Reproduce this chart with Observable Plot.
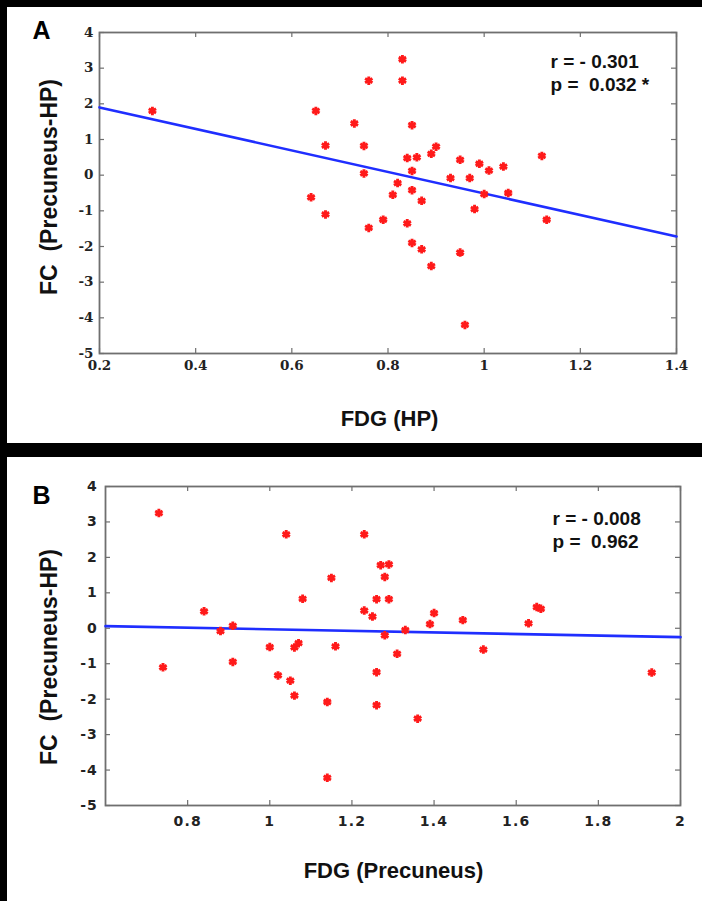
<!DOCTYPE html>
<html><head><meta charset="utf-8">
<script src="https://cdn.jsdelivr.net/npm/d3@7"></script>
<script src="https://cdn.jsdelivr.net/npm/@observablehq/plot@0.6"></script>
<style>
html,body{margin:0;padding:0;background:#000;}
body{width:702px;height:901px;position:relative;overflow:hidden;}
.panel{position:absolute;left:7px;width:695px;background:#fff;}
#pa{top:7px;height:436px;}
#pb{top:457px;height:444px;}
svg{display:block}
#pb g[aria-label="x-axis tick label"] text{letter-spacing:1.2px;}
#pb g[aria-label="y-axis tick label"] text{letter-spacing:0.8px;}
</style></head><body>
<div id="pa" class="panel"></div><div id="pb" class="panel"></div>
<script>
// ---------- Panel A: FDG (HP) vs FC (Precuneus-HP) ----------
const fdgHP = [0.31,0.65,0.76,0.83,0.83,0.73,0.85,0.67,0.75,0.90,0.84,0.86,0.89,0.95,0.99,1.01,1.04,1.12,0.75,0.85,
               0.93,0.97,0.82,0.81,0.85,0.87,1.00,1.05,0.64,0.67,0.98,0.79,0.84,0.76,1.13,0.85,0.87,0.95,0.89,0.96];
const fcA   = [1.80,1.80,2.65,3.25,2.65,1.45,1.40,0.83,0.82,0.80,0.48,0.50,0.60,0.43,0.32,0.13,0.24,0.54,0.05,0.12,
               -0.08,-0.08,-0.22,-0.55,-0.42,-0.72,-0.53,-0.50,-0.62,-1.10,-0.95,-1.25,-1.35,-1.48,-1.25,-1.90,-2.08,-2.17,-2.55,-4.20];
const fitAx = [0.2, 1.4];
const fitAy = [1.90, -1.72];
const xTicksA = [0.2,0.4,0.6,0.8,1.0,1.2,1.4];
const statsA = ["r = - 0.301", "p = \u00a00.032 *"];

// ---------- Panel B: FDG (Precuneus) vs FC (Precuneus-HP) ----------
const fdgPrec = [0.73,0.74,0.84,0.88,0.91,0.91,1.00,1.02,1.05,1.06,1.04,1.06,1.07,1.08,1.15,1.16,1.14,1.14,1.23,1.23,
                 1.25,1.26,1.29,1.27,1.29,1.28,1.28,1.26,1.26,1.31,1.33,1.36,1.39,1.40,1.47,1.52,1.63,1.65,1.66,1.93];
const fcB     = [3.25,-1.10,0.48,-0.08,0.07,-0.95,-0.53,-1.33,-1.48,-1.90,2.65,-0.54,-0.42,0.83,1.42,-0.51,-2.08,-4.22,2.65,0.50,
                 0.33,0.82,0.82,1.78,1.80,1.45,-0.20,-1.24,-2.17,-0.72,-0.05,-2.55,0.12,0.43,0.23,-0.60,0.14,0.60,0.55,-1.25];
const fitBx = [0.6, 2.0];
const fitBy = [0.06, -0.25];
const xTicksB = [0.8,1.0,1.2,1.4,1.6,1.8,2.0];
const statsB = ["r = - 0.008", "p = \u00a00.962"];

const yTicks = [-5,-4,-3,-2,-1,0,1,2,3,4];
const yLabel = "FC \u00a0(Precuneus-HP)";

function panel(cfg) {
  const pts = cfg.xs.map((x, i) => ({x, y: cfg.ys[i]}));
  const fit = cfg.fx.map((x, i) => ({x, y: cfg.fy[i]}));
  const W = 695, H = cfg.height;
  const innerW = W - cfg.ml - cfg.mr, innerH = H - cfg.mt - cfg.mb;
  const tl = 5, gray = "#6f6f6f";
  return Plot.plot({
    width: W, height: H,
    marginLeft: cfg.ml, marginRight: cfg.mr, marginTop: cfg.mt, marginBottom: cfg.mb,
    style: {background: "white", fontFamily: "Liberation Sans, Arial, sans-serif", overflow: "visible"},
    x: {domain: cfg.xDomain},
    y: {domain: [-5, 4]},
    marks: [
      Plot.ruleX(cfg.xTicks, {x: d => d, stroke: gray, strokeWidth: 1.2, insetTop: innerH - tl}),
      Plot.ruleX(cfg.xTicks, {x: d => d, stroke: gray, strokeWidth: 1.2, insetBottom: innerH - tl}),
      Plot.ruleY(yTicks, {y: d => d, stroke: gray, strokeWidth: 1.2, insetRight: innerW - tl}),
      Plot.ruleY(yTicks, {y: d => d, stroke: gray, strokeWidth: 1.2, insetLeft: innerW - tl}),
      Plot.frame({stroke: gray, strokeWidth: 1.8}),
      Plot.axisX(cfg.xTicks, {tickSize: 0, tickPadding: cfg.xPad, label: null, tickFormat: d => String(d),
        fontSize: cfg.tickFont, fontWeight: "bold", fontFamily: cfg.tickFamily, fill: "#222"}),
      Plot.axisY(yTicks, {tickSize: 0, tickPadding: cfg.yPad, label: null, tickFormat: d => String(d),
        fontSize: cfg.tickFont, fontWeight: "bold", fontFamily: cfg.tickFamily, fill: "#222"}),
      Plot.line(fit, {x: "x", y: "y", stroke: "#1f2eff", strokeWidth: 2.6}),
      Plot.dot(pts, {x: "x", y: "y", symbol: "asterisk", r: 4, stroke: "#ff1a1a", strokeWidth: 2.9}),
      Plot.text([cfg.stats[0]], {frameAnchor: "top-right", dx: cfg.statDx, dy: cfg.statDy, textAnchor: "start",
        lineAnchor: "middle", fontSize: 19, fontWeight: "bold", fill: "#111"}),
      Plot.text([cfg.stats[1]], {frameAnchor: "top-right", dx: cfg.statDx, dy: cfg.statDy + 23, textAnchor: "start",
        lineAnchor: "middle", fontSize: 19, fontWeight: "bold", fill: "#111"}),
      Plot.text([cfg.letter], {frameAnchor: "top-left", dx: cfg.letterDx, dy: cfg.letterDy, textAnchor: "middle",
        lineAnchor: "middle", fontSize: 25, fontWeight: "bold", fill: "#000"}),
      Plot.text([cfg.xLabel], {frameAnchor: "bottom", dx: cfg.xLabDx, dy: cfg.xLabDy, textAnchor: "middle",
        lineAnchor: "middle", fontSize: 22, fontWeight: "bold", fill: "#111"}),
      Plot.text([yLabel], {frameAnchor: "left", dx: cfg.yLabDx, dy: cfg.yLabDy, rotate: -90, textAnchor: "middle",
        lineAnchor: "middle", fontSize: 23, fontWeight: "bold", fill: "#111"})
    ]
  });
}

document.getElementById("pa").append(panel({
  xs: fdgHP, ys: fcA, fx: fitAx, fy: fitAy, xTicks: xTicksA, xDomain: [0.2, 1.4],
  height: 436, ml: 92, mr: 26, mt: 25, mb: 90,
  tickFont: 13.5, tickFamily: "DejaVu Serif, Liberation Serif, serif", xPad: 7, yPad: 6,
  stats: statsA, statDx: -126, statDy: 29,
  letter: "A", letterDx: -58, letterDy: -2,
  xLabel: "FDG (HP)", xLabDx: 1.5, xLabDy: 65,
  yLabDx: -50, yLabDy: -6
}));

document.getElementById("pb").append(panel({
  xs: fdgPrec, ys: fcB, fx: fitBx, fy: fitBy, xTicks: xTicksB, xDomain: [0.6, 2.0],
  height: 444, ml: 98, mr: 22, mt: 29, mb: 96,
  tickFont: 14, tickFamily: "DejaVu Sans, Liberation Sans, sans-serif", xPad: 11, yPad: 8,
  stats: statsB, statDx: -128, statDy: 32,
  letter: "B", letterDx: -64, letterDy: 9,
  xLabel: "FDG (Precuneus)", xLabDx: 0.5, xLabDy: 65,
  yLabDx: -56, yLabDy: 11
}));
</script>
</body></html>
